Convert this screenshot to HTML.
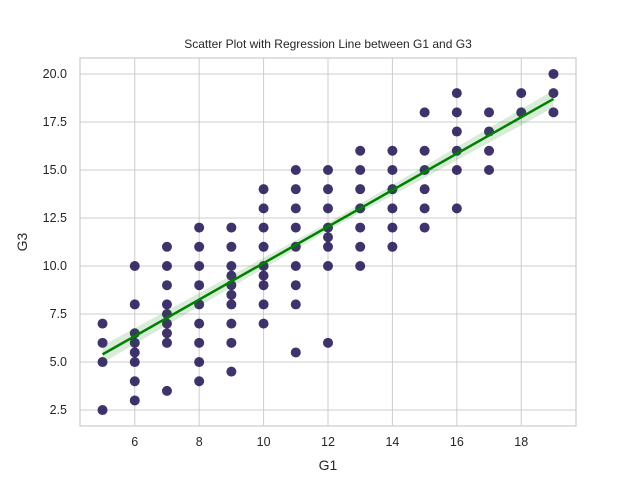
<!DOCTYPE html>
<html><head><meta charset="utf-8"><style>
body{margin:0;background:#fff;font-family:"Liberation Sans",sans-serif}
</style></head><body>
<svg id="c" width="640" height="480" xmlns="http://www.w3.org/2000/svg"></svg>
<script>
const g1Values=[5,6,7,8,9,10,11,12,13,14,15,16,17,18,19];
const g3Values=[
[7,6,5,2.5],
[10,8,6.5,6,5.5,5,4,3],
[11,10,9,8,7.5,7,6.5,6,3.5],
[12,11,10,9,8,7,6,5,4],
[12,11,10,9.5,9,8.5,8,7,6,4.5],
[14,13,12,11,10,9.5,9,8,7],
[15,14,13,12,11,10,9,8,5.5],
[15,14,13,12,11.5,11,10,6],
[16,15,14,13,12,11,10],
[16,15,14,13,12,11],
[18,16,15,14,13,12],
[19,18,17,16,15,13],
[18,17,16,15],
[19,18],
[20,19,18]];
const xTicks=[6,8,10,12,14,16,18];
const yTicks=[2.5,5.0,7.5,10.0,12.5,15.0,17.5,20.0];
const regIntercept=[0.65];
const regSlope=[0.95];
const regRange=[5,19];

const L=80,R=576,T=58,B=426;
const x0=4.3,x1=19.7,y0=1.67,y1=20.83;
const sx=v=>L+(v-x0)/(x1-x0)*(R-L);
const sy=v=>B-(v-y0)/(y1-y0)*(B-T);
const NS="http://www.w3.org/2000/svg";
const svg=document.getElementById('c');
function mk(t,a,p){const e=document.createElementNS(NS,t);for(const k in a)e.setAttribute(k,a[k]);(p||svg).appendChild(e);return e;}
const grid=mk('g',{});


xTicks.forEach(v=>{
 mk('line',{x1:sx(v),x2:sx(v),y1:T,y2:B,stroke:'#cccccc','stroke-width':1},grid);
 const t=mk('text',{x:sx(v),y:B+20,'text-anchor':'middle','font-size':12.5,fill:'#262626'});
 t.textContent=v;
 
 
});
yTicks.forEach(v=>{
 mk('line',{x1:L,x2:R,y1:sy(v),y2:sy(v),stroke:'#cccccc','stroke-width':1},grid);
 const t=mk('text',{x:L-13,y:sy(v)+4,'text-anchor':'end','font-size':12.5,fill:'#262626'});
 t.textContent=v.toFixed(1);
 
 
});
const fr=mk('rect',{x:L,y:T,width:R-L,height:B-T,fill:'none',stroke:'#cccccc','stroke-width':1.2});


const pts=mk('g',{});


g1Values.forEach((gx,i)=>g3Values[i].forEach(gy=>{
 const c=mk('circle',{cx:sx(gx),cy:sy(gy),r:5,fill:'#1f0f52','fill-opacity':0.85},pts);
 
 
}));
const a=regIntercept[0],b=regSlope[0];
const xa=regRange[0],xb=regRange[1];
const band=mk('polygon',{points:`${sx(xa)},${sy(a+b*xa+0.45)} ${sx((xa+xb)/2)},${sy(a+b*(xa+xb)/2+0.2)} ${sx(xb)},${sy(a+b*xb+0.45)} ${sx(xb)},${sy(a+b*xb-0.45)} ${sx((xa+xb)/2)},${sy(a+b*(xa+xb)/2-0.2)} ${sx(xa)},${sy(a+b*xa-0.45)}`,fill:'#008000','fill-opacity':0.15});


const rl=mk('line',{x1:sx(xa),y1:sy(a+b*xa),x2:sx(xb),y2:sy(a+b*xb),stroke:'#008000','stroke-width':2.5});


const ti=mk('text',{x:(L+R)/2,y:48,'text-anchor':'middle','font-size':12,fill:'#262626'});
ti.textContent='Scatter Plot with Regression Line between G1 and G3';


const xl=mk('text',{x:(L+R)/2,y:470,'text-anchor':'middle','font-size':14,fill:'#262626'});
xl.textContent='G1';


const yl=mk('text',{x:0,y:0,'text-anchor':'middle','font-size':14,fill:'#262626',transform:`translate(27,${(T+B)/2}) rotate(-90)`});
yl.textContent='G3';


</script>
</body></html>
